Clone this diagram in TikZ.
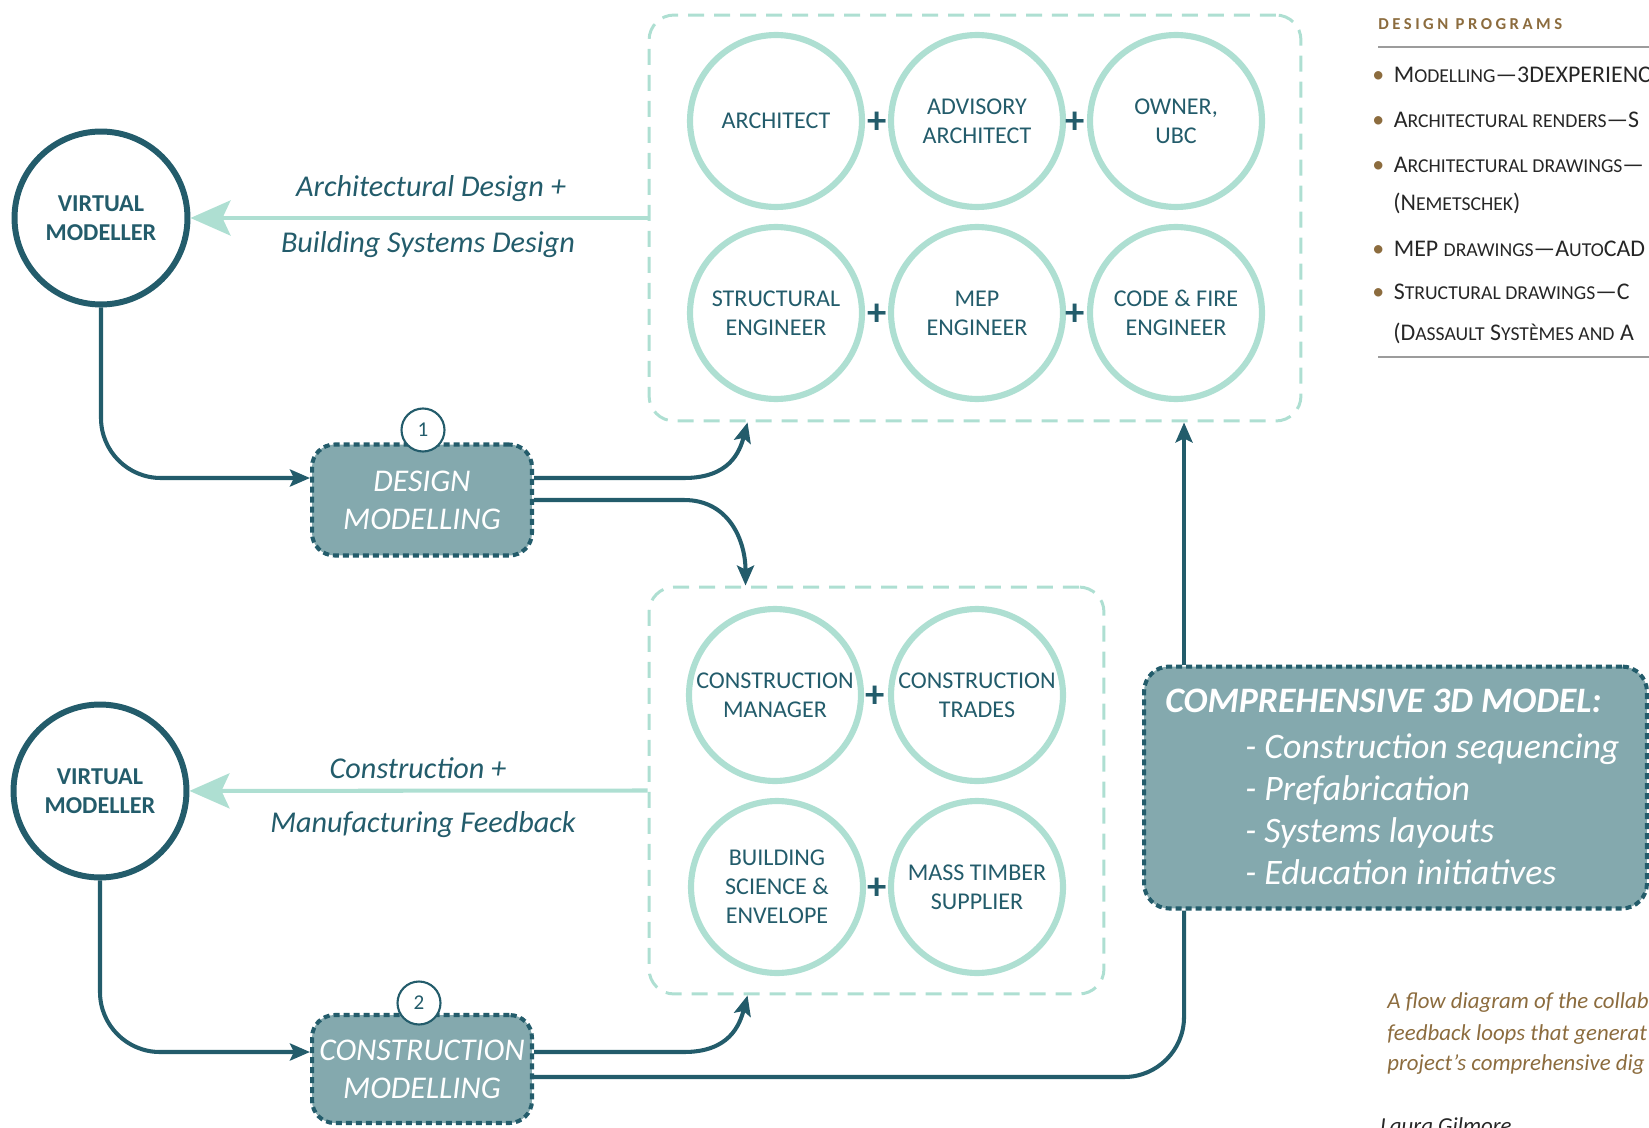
\documentclass[tikz,border=0pt]{standalone}
\usepackage{fontspec}
\setmainfont{Carlito}
\usepackage{tikz}
\usetikzlibrary{arrows.meta}
\usetikzlibrary{calc}

\definecolor{deepteal}{HTML}{235C6B}
\definecolor{mint}{HTML}{AEDFD2}
\definecolor{modelfill}{HTML}{84A9AE}
\definecolor{progbrown}{HTML}{8C6C3E}
\definecolor{rulegray}{HTML}{9C9C9C}

\newcommand{\fakesc}[1]{{\fontsize{11.2pt}{13pt}\selectfont\MakeUppercase{#1}}}

\begin{document}
\begin{tikzpicture}[x=0.02cm, y=-0.02cm,
    modeller/.style={circle, draw=deepteal, line width=3.4pt, minimum size=3.46cm, inner sep=0pt, align=center, text=deepteal, font=\fontsize{13.8pt}{16.5pt}\selectfont\bfseries},
    party/.style={circle, draw=mint, line width=3.5pt, minimum size=3.44cm, inner sep=0pt, align=center, text=deepteal, font=\fontsize{13.7pt}{16.5pt}\selectfont},
    plussign/.style={text=deepteal, inner sep=0pt, font=\fontsize{22pt}{22pt}\selectfont\bfseries},
    grpbox/.style={draw=mint, line width=1.7pt, dash pattern=on 0.32cm off 0.2cm, rounded corners=0.5cm, inner sep=0pt},
    modelbox/.style={draw=deepteal, fill=modelfill, line width=2.3pt, dash pattern=on 0.12cm off 0.08cm, rounded corners=0.45cm, inner sep=0pt, align=center, text=white, font=\fontsize{18pt}{21.5pt}\selectfont\itshape},
    badge/.style={circle, draw=deepteal, fill=white, line width=1.2pt, minimum size=0.86cm, inner sep=0pt, text=deepteal, font=\fontsize{12pt}{12pt}\selectfont},
    link/.style={draw=deepteal, line width=2.3pt, -{Stealth[length=0.4cm, width=0.34cm, inset=0.08cm]}},
    feed/.style={draw=mint, line width=2.3pt, -{Stealth[length=0.8cm, width=0.7cm, inset=0.16cm]}},
    flowlabel/.style={text=deepteal, font=\fontsize{17.2pt}{20pt}\selectfont\itshape},
    compline/.style={anchor=base west, inner sep=0pt, text=white, font=\fontsize{20.4pt}{24pt}\selectfont\itshape},
    progitem/.style={anchor=base west, inner sep=0pt, text=black!85, font=\fontsize{13.6pt}{16pt}\selectfont},
    caption/.style={anchor=base west, inner sep=0pt, text=progbrown, font=\fontsize{13pt}{15pt}\selectfont\itshape}]

  \useasboundingbox (0,0) rectangle (1649,1128);
  \clip (0,0) rectangle (1649,1128);

  % groups
  \node[grpbox, minimum width=13.04cm, minimum height=8.12cm] (dgroup) at (975,218) {};
  \node[grpbox, minimum width=9.1cm, minimum height=8.14cm] (cgroup) at (876.5,790.5) {};

  % design team
  \node[party] (arch) at (776,121) {ARCHITECT};
  \node[party] (advarch) at (977,121) {ADVISORY\\ARCHITECT};
  \node[party] (owner) at (1176,121) {OWNER,\\UBC};
  \node[party] (struct) at (776,313) {STRUCTURAL\\ENGINEER};
  \node[party] (mep) at (977,313) {MEP\\ENGINEER};
  \node[party] (codefire) at (1176,313) {CODE \& FIRE\\ENGINEER};
  \node[plussign] (p1) at (877,123) {+};
  \node[plussign] (p2) at (1075,123) {+};
  \node[plussign] (p3) at (877,315) {+};
  \node[plussign] (p4) at (1075,315) {+};

  % construction team
  \node[party] (cmgr) at (775,695) {CONSTRUCTION\\MANAGER};
  \node[party] (trades) at (977,695) {CONSTRUCTION\\TRADES};
  \node[party] (bldgsci) at (777,887) {BUILDING\\SCIENCE \&\\ENVELOPE};
  \node[party] (timber) at (977,887) {MASS TIMBER\\SUPPLIER};
  \node[plussign] (p5) at (875,697) {+};
  \node[plussign] (p6) at (877,889) {+};

  % modellers
  \node[modeller] (vm1) at (101,218) {VIRTUAL\\MODELLER};
  \node[modeller] (vm2) at (100,791) {VIRTUAL\\MODELLER};

  \node[modelbox, minimum width=4.4cm, minimum height=2.22cm] (dm) at (422,500) {DESIGN\\MODELLING};
  \node[modelbox, minimum width=4.4cm, minimum height=2.16cm] (cm) at (422,1069) {CONSTRUCTION\\MODELLING};
  \node[badge] (badge1) at (423,430) {1};
  \node[badge] (badge2) at (419,1003) {2};

  \node[modelbox, minimum width=10.06cm, minimum height=4.84cm, rounded corners=0.5cm] (comp) at (1395.5,787.5) {};
  \node[compline, font=\fontsize{20.4pt}{24pt}\selectfont\bfseries\itshape] (comptitle) at (1165,712) {COMPREHENSIVE 3D MODEL:};
  \node[compline] (c1) at (1245,758) {- Construction sequencing};
  \node[compline] (c2) at (1245,800) {- Prefabrication};
  \node[compline] (c3) at (1245,842) {- Systems layouts};
  \node[compline] (c4) at (1245,884) {- Education initiatives};

  % feedback arrows
  \draw[feed] (dgroup.west) -- (vm1);
  \draw[feed] (cgroup.west) -- (vm2);
  \node[flowlabel] (archlbl) at (431,189) {Architectural Design +};
  \node[flowlabel] (bldglbl) at (428,245) {Building Systems Design};
  \node[flowlabel] (conlbl) at (418,768) {Construction +};
  \node[flowlabel] (mfglbl) at (423,825) {Manufacturing Feedback};

  % connectors
  \coordinate (dtip) at ([xshift=2cm]dgroup.south west);
  \coordinate (ctipA) at ([xshift=1.96cm]cgroup.north west);
  \coordinate (ctipB) at ([xshift=2cm]cgroup.south west);
  \coordinate (cbot) at ([xshift=0.84cm]comp.south west);
  \coordinate (ctop) at ([xshift=0.84cm]comp.north west);

  \draw[link, rounded corners=1.2cm] (vm1.south) |- ([yshift=0.44cm]dm.west);
  \draw[link, rounded corners=1.2cm] (vm2.south) |- ([yshift=0.34cm]cm.west);
  \draw[link] ([yshift=0.44cm]dm.east) -- ++(150,0) .. controls +(45,0) and +(-8,30) .. (dtip);
  \draw[link] (dm.east) -- ++(150,0) .. controls +(45,0) and +(0,-45) .. (ctipA);
  \draw[link] ([yshift=0.34cm]cm.east) -- ++(150,0) .. controls +(45,0) and +(-8,30) .. (ctipB);
  \draw[link, -, rounded corners=1.2cm] ([yshift=-0.16cm]cm.east) -| (cbot);
  \draw[link] (ctop) -- (ctop |- dgroup.south);

  % design programs
  \node[anchor=base west, inner sep=0pt, text=progbrown, font=\fontsize{9.5pt}{11pt}\selectfont\bfseries\addfontfeature{LetterSpace=21}] (progtitle) at (1378,30) {DESIGN PROGRAMS};
  \draw[rulegray, line width=1pt] (1378,47) -- (1649,47);
  \node[progitem] (prog1) at (1372,83) {{\color{progbrown}\textbullet}\hspace{0.4em}M\fakesc{odelling}—3DEXPERIENC};
  \node[progitem] (prog2) at (1372,128) {{\color{progbrown}\textbullet}\hspace{0.4em}A\fakesc{rchitectural renders}—S};
  \node[progitem] (prog3) at (1372,173) {{\color{progbrown}\textbullet}\hspace{0.4em}A\fakesc{rchitectural drawings}—};
  \node[progitem] (prog3b) at (1393,211) {(N\fakesc{emetschek})};
  \node[progitem] (prog4) at (1372,257) {{\color{progbrown}\textbullet}\hspace{0.4em}MEP \fakesc{drawings}—A\fakesc{uto}CAD};
  \node[progitem] (prog5) at (1372,300) {{\color{progbrown}\textbullet}\hspace{0.4em}S\fakesc{tructural drawings}—C};
  \node[progitem] (prog5b) at (1393,340) {(D\fakesc{assault} S\fakesc{ystèmes and} A};
  \draw[rulegray, line width=1pt] (1378,357) -- (1649,357);

  % caption
  \node[caption] (cap1) at (1387,1008) {A flow diagram of the collab};
  \node[caption] (cap2) at (1387,1040) {feedback loops that generat};
  \node[caption] (cap3) at (1387,1070) {project’s comprehensive dig};
  \node[caption, text=black!85] (credit) at (1380,1133) {Laura Gilmore};
\end{tikzpicture}
\end{document}
